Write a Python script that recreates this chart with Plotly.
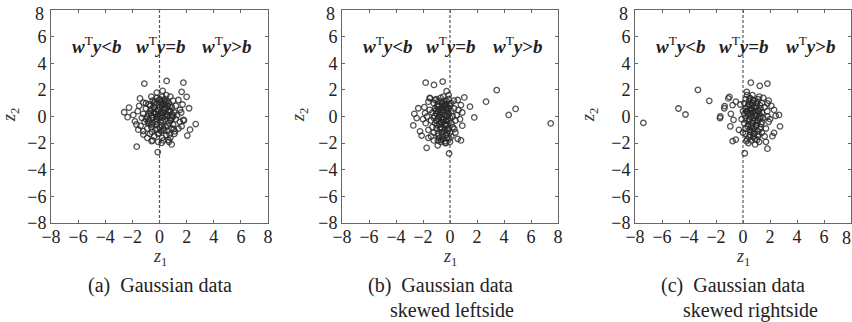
import plotly.graph_objects as go

# ---------------- data ----------------
a_x = [-1.12, 0.53, 1.76, 0.23, 1.63, 2.18, 2.67, 2.25, 2.05, -1.68, -0.13, 0.9, -2.6, -2.35, -2.25,
       -1.44, -1.19, 1.39, 1.51, 1.76, 1.63, 1.14, -0.58, 0.16, -1.19, -1.56, -1.81, -1.93, 2.0,
       -0.8, -0.5, -0.2, 0.1, 0.4, 0.7, 1.0, 1.2, -1.0, -0.7, -0.4, -0.1, 0.2, 0.5, 0.8, 1.1, -1.2,
       -0.9, -0.6, -0.3, 0.0, 0.3, 0.6, 0.9, 1.2, -1.1, -0.8, -0.5, -0.2, 0.1, 0.4, 0.7, 1.0, -0.9,
       -0.6, -0.3, 0.0, 0.3, 0.6, 0.9, -0.7, -0.4, -0.1, 0.2, 0.5, 0.8, -0.3, 0.0, 0.3, -0.6, 0.6,
       -0.2, 0.2, 0.5, -0.5, -0.1, 0.1, -0.4, 0.4, 0.7, -0.8, 0.9, -1.3, 1.3, -1.0, 0.2, 0.5, -0.6,
       -1.4, -1.2, 1.4, 1.5, 1.1, -0.5, 0.3, -0.9, 0.7, -1.6, -1.5, 1.6, 1.7, -0.2, 0.8, -1.7, 1.8,
       -0.1, 0.0, 0.4, -0.7, 0.8, -0.3, 0.2, -0.2, 0.6, -0.6, 0.1, 1.0, -1.0, 0.3, -0.4]
a_y = [2.47, 2.67, 2.54, 1.93, 1.85, 0.62, -0.57, -0.99, -1.43, -2.27, -2.67, -2.1, 0.32, -0.05, 0.67,
       1.36, 1.04, 1.24, 0.5, -0.25, -0.74, -1.11, -1.85, -1.98, -1.36, -0.99, -0.37, 0.12, 1.48,
       0.9, 1.2, 1.4, 1.1, 1.3, 1.0, 1.2, 0.8, 0.6, 0.4, 0.7, 0.5, 0.8, 0.6, 0.4, 0.3, 0.2,
       0.0, 0.1, 0.2, 0.0, 0.3, 0.1, -0.1, -0.2, -0.4, -0.3, -0.5, -0.2, -0.4, -0.2, -0.5, -0.6, -0.9,
       -0.8, -1.0, -0.8, -0.9, -1.1, -0.9, -1.3, -1.5, -1.3, -1.6, -1.4, -1.6, 0.9, 0.7, 0.5, 0.5, 0.8,
       -0.6, -0.1, 0.2, -0.1, 0.1, 0.3, 0.3, 0.0, 0.5, 0.2, 0.7, -0.1, 0.1, 1.0, 1.5, 1.6, 1.5,
       -0.7, -1.1, -0.9, -0.4, -1.3, -1.8, -1.8, -1.6, -1.9, 0.4, 0.8, 0.3, 0.9, 1.8, 1.5, -0.6, -0.3,
       -1.9, 1.3, 0.9, 0.8, -0.3, -0.4, 0.1, 0.0, -0.7, -0.6, -1.1, 0.0, -0.2, 1.2, 1.0]
a_core_x = [-0.35, 0.15, 0.45, 0.75, -0.65, -0.15, 0.35, 0.65, -0.45, 0.05, 0.55, 0.85, -0.75, -0.25,
            0.25, 0.95, -0.55, 0.15, 0.45, -0.05, 0.35, 0.75, -0.85, -0.35, 0.05, 0.55, 1.05, -0.15,
            0.25, 0.65]
a_core_y = [0.65, 0.95, 1.05, 0.75, 0.25, 0.45, 0.65, 0.35, -0.05, 0.25, 0.05, -0.25, -0.55, -0.15,
            -0.35, 0.15, -1.15, -0.65, -0.75, -1.25, -1.05, -1.35, -0.45, 1.15, 1.25, 1.15, -0.95,
            -0.95, 0.95, -1.75]

b_x = [-1.8, -1.19, -0.54, -0.25, 0.57, 1.06, 1.48, 1.8, -2.35, -2.64, -2.47, -2.72, -2.22, -2.1,
       -1.73, -0.91, -0.37, -0.07, 0.57, 0.81, 0.32, 0.91, 0.74, 0.91, 0.62, 0.81, -1.85, -1.6, -1.48,
       -1.11, 2.67, 3.46, 4.35, 4.86, 7.46,
       -1.0, -0.7, -0.4, -0.1, 0.1, -1.2, -0.9, -0.6, -0.3, 0.0, -1.1, -0.8, -0.5, -0.2, 0.1, -1.3,
       -1.0, -0.7, -0.4, -0.1, 0.2, -1.2, -0.9, -0.6, -0.3, 0.0, -1.1, -0.8, -0.5, -0.2, 0.1, -1.3,
       -1.0, -0.7, -0.4, -0.1, 0.2, -1.2, -0.9, -0.6, -0.3, 0.0, -0.8, -0.5, -0.2, 0.1, -0.7, -0.3,
       0.0, -0.6, -0.3, -0.8, -0.5, -0.2, -0.7, -0.4, -0.9, -0.5, -0.2, -0.6, -0.3, -1.0, -0.8, -0.4,
       -1.5, -1.4, -1.6, -1.5, -1.7, -1.4, 0.3, 0.4, 0.3, -1.9, -1.8, -0.9, 0.4, -0.1, -0.5, -1.2,
       -1.6, 0.5, -2.0]
b_y = [2.54, 2.37, 2.62, 1.9, 1.24, 1.43, 0.74, -0.07, 0.62, 0.2, -0.12, -0.67, -1.11, -1.43,
       -2.35, -2.17, -1.98, -2.77, -1.68, -1.8, -0.94, -0.69, -0.2, 0.3, 0.49, 0.86, 0.25, 1.11, 1.36,
       1.24, 1.11, 1.98, 0.12, 0.57, -0.52,
       1.3, 1.4, 1.2, 1.3, 1.0, 1.0, 0.9, 1.0, 0.9, 0.8, 0.6, 0.5, 0.7, 0.5, 0.4, 0.3,
       0.2, 0.3, 0.1, 0.2, 0.0, -0.1, -0.2, -0.1, -0.3, -0.1, -0.5, -0.6, -0.4, -0.6, -0.5, -0.8,
       -0.9, -0.8, -1.0, -0.9, -0.8, -1.2, -1.3, -1.2, -1.4, -1.2, -1.6, -1.7, -1.6, -1.5, -1.9, -2.0,
       -1.9, 0.5, 0.6, 0.0, -0.2, 0.0, -0.4, -0.6, 0.4, 0.3, -0.2, -0.9, -0.7, -0.3, 0.8, 0.9,
       0.5, -0.3, -1.0, 1.4, 0.0, -1.5, 1.2, -0.3, 0.6, 0.7, -0.5, -1.8, -1.2, 1.6, 1.5, -1.8,
       -1.6, 0.1, -0.2]
b_core_x = [-0.85, -0.55, -0.25, -0.05, -0.95, -0.65, -0.35, -0.15, -1.05, -0.75, -0.45, -0.15, -0.85,
            -0.55, -0.25, -0.05, -0.95, -0.65, -0.35, -0.75, -0.45, -0.15, -0.55, -0.25, -1.15, -0.05,
            -0.65, -0.35, -0.85, -0.45]
b_core_y = [1.15, 1.05, 1.15, 0.95, 0.75, 0.65, 0.75, 0.65, 0.45, 0.15, 0.45, 0.35, -0.05, -0.25, 0.05,
            -0.35, -0.65, -0.45, -0.55, -0.95, -1.15, -1.05, -1.45, -1.25, 0.05, -1.65, -1.75, -1.85,
            -1.45, 0.85]

c_x = [0.58, 1.24, 1.81, 0.28, -1.09, -1.39, -1.71, -0.9, -0.7, -0.94, -0.77, -0.53, 0.13, 1.81,
       2.3, 2.67, 2.74, 2.3, 2.18, 2.42, 1.81, -0.53, -0.77, 1.81,
       -7.38, -4.78, -4.26, -3.34, -2.5, -1.68, -1.36, -1.01,
       0.2, 0.5, 0.8, 1.1, 1.4, 0.1, 0.4, 0.7, 1.0, 1.3, 0.2, 0.5, 0.8, 1.1, 1.4, 0.1, 0.4, 0.7,
       1.0, 1.3, 0.2, 0.5, 0.8, 1.1, 1.4, 0.1, 0.4, 0.7, 1.0, 1.3, 0.2, 0.5, 0.8, 1.1, 1.4, 0.2,
       0.5, 0.8, 1.1, 0.3, 0.6, 0.9, 1.2, 0.4, 0.9, 0.6, 0.9, 0.3, 0.6, 0.9, 0.3, 0.6, 1.2, 0.5,
       1.0, 0.7, 1.5, 1.6, 1.7, 1.5, 1.8, 1.9, 1.6, 0.0, -0.1, -0.2, -0.3, 1.9, 2.0, 1.7, 0.3, 0.7,
       1.2, 0.0, 2.1]
c_y = [2.54, 2.3, 2.47, 1.85, 1.36, 0.62, -0.12, 0.2, -0.25, -0.74, -1.85, -1.73, -2.76, -2.42,
       0.5, 0.12, -0.74, -1.23, -1.48, 0.05, 0.99, 1.11, 0.86, 0.0,
       -0.48, 0.6, 0.15, 2.0, 1.18, 0.0, 0.78, 1.48,
       1.3, 1.4, 1.2, 1.3, 1.0, 1.0, 0.9, 1.0, 0.8, 0.6, 0.6, 0.5, 0.7, 0.4, 0.3, 0.2, 0.2, 0.3,
       0.1, 0.0, -0.1, -0.2, -0.1, -0.3, -0.4, -0.5, -0.6, -0.5, -0.7, -0.8, -0.9, -1.0, -0.9, -1.1,
       -1.2, -1.3, -1.4, -1.3, -1.5, -1.7, -1.8, -1.7, -1.9, -2.0, -2.1, 0.6, 0.4, 0.4, 0.0, -0.3,
       -0.3, -0.7, 0.2, 0.9, 1.0, -1.1, -0.1, 0.7, -0.9, 1.4, 0.4, -0.4, -1.5, 0.4, -0.2, 0.9, -1.0,
       1.2, -0.2, -1.9, 1.6, 1.6, 1.5, -1.2, 0.8]
c_core_x = [0.45, 0.75, 1.05, 1.25, 0.35, 0.65, 0.95, 1.15, 0.25, 0.55, 0.85, 1.25, 0.45, 0.75, 1.05,
            0.35, 0.65, 0.95, 1.25, 0.55, 0.85, 1.15, 0.45, 0.75, 0.25, 1.05, 0.65, 0.95, 1.35, 0.55]
c_core_y = [1.15, 1.25, 1.05, 0.85, 0.75, 0.85, 0.65, 0.45, 0.35, 0.25, 0.15, -0.15, -0.25, -0.35,
            -0.45, -0.75, -0.85, -0.65, -0.95, -1.15, -1.25, -1.35, -1.55, -1.55, -1.85, -1.75, 0.45,
            0.05, -0.55, 1.35]

boundary_x = [0, 0]
boundary_y = [-8, 8]
axis_range = [-8, 8]
tick_vals = [-8, -6, -4, -2, 0, 2, 4, 6, 8]
tick_text = ["\u22128", "\u22126", "\u22124", "\u22122", "0", "2", "4", "6", "8"]

region_labels = [
    "<b><i>w</i></b><sup>T</sup><b><i>y</i>&lt;<i>b</i></b>",
    "<b><i>w</i></b><sup>T</sup><b><i>y</i>=<i>b</i></b>",
    "<b><i>w</i></b><sup>T</sup><b><i>y</i>&gt;<i>b</i></b>",
]
region_label_x = [-4.6, 0.1, 5.0]
region_label_y = 5.4

captions = [
    ["(a)  Gaussian data"],
    ["(b)  Gaussian data", "skewed leftside"],
    ["(c)  Gaussian data", "skewed rightside"],
]

# ---------------- layout helpers ----------------
W, H = 852, 322
FONT = "Liberation Serif, Times New Roman, serif"
panels_px = [(51, 268), (342, 558), (635, 851)]
ytitle_px = [11, 300, 590]
top_px, bot_px = 10, 223


def px(x):
    return x / W


def py(y):
    return (H - y) / H


fig = go.Figure()
datasets = [(a_x + a_core_x, a_y + a_core_y), (b_x + b_core_x, b_y + b_core_y),
            (c_x + c_core_x, c_y + c_core_y)]
for i, (xs, ys) in enumerate(datasets):
    sfx = "" if i == 0 else str(i + 1)
    fig.add_trace(go.Scatter(
        x=boundary_x, y=boundary_y, mode="lines", xaxis="x" + sfx, yaxis="y" + sfx,
        line=dict(color="rgba(70,70,70,0.9)", width=1.2, dash="3px,2px"),
        showlegend=False, hoverinfo="skip"))
    fig.add_trace(go.Scatter(
        x=xs, y=ys, mode="markers", xaxis="x" + sfx, yaxis="y" + sfx,
        marker=dict(symbol="circle-open", size=5.5, color="rgba(40,40,40,0.8)",
                    line=dict(width=1.3)),
        showlegend=False, hoverinfo="skip"))

axis_common = dict(range=axis_range, tickvals=tick_vals, ticktext=tick_text,
                   showgrid=False, zeroline=False,
                   showline=True, linecolor="#666", linewidth=1, mirror="ticks",
                   ticks="inside", ticklen=3, tickcolor="#666", automargin=False,
                   ticklabeloverflow="allow",
                   tickfont=dict(family=FONT, size=18, color="#222"), fixedrange=True)

layout = dict(template="none", width=W, height=H, margin=dict(l=0, r=0, t=0, b=0, pad=0),
              paper_bgcolor="white", plot_bgcolor="white", annotations=[], showlegend=False)
for i, (l, r) in enumerate(panels_px):
    sfx = "" if i == 0 else str(i + 1)
    xa = dict(axis_common, domain=[px(l), px(r)], anchor="y" + sfx, ticklabelstandoff=-3)
    ya = dict(axis_common, domain=[py(bot_px), py(top_px)], anchor="x" + sfx)
    # top y label and (for the cropped last panel) right x label are drawn as annotations
    ya["ticktext"] = tick_text[:-1] + [""]
    if i == 2:
        xa["ticktext"] = tick_text[:-1] + [""]
    layout["xaxis" + sfx] = xa
    layout["yaxis" + sfx] = ya

    cx = (l + r) / 2
    ann = layout["annotations"]
    ann.append(dict(text=tick_text[-1], x=px(l - 5), y=py(14), xref="paper", yref="paper",
                    xanchor="right", yanchor="middle", showarrow=False,
                    font=dict(family=FONT, size=18, color="#222")))
    if i == 2:
        ann.append(dict(text="8", x=px(846), y=py(238), xref="paper", yref="paper",
                        xanchor="center", yanchor="middle", showarrow=False,
                        font=dict(family=FONT, size=18, color="#222")))
    # region labels
    for t, lx in zip(region_labels, region_label_x):
        ann.append(dict(text=t, x=lx, y=region_label_y, xref="x" + sfx, yref="y" + sfx,
                        xanchor="center", yanchor="middle",
                        showarrow=False, font=dict(family=FONT, size=19, color="#222")))
    # axis titles
    ann.append(dict(text="<i>z</i><sub>1</sub>", x=px(cx), y=py(257), xref="paper", yref="paper",
                    xanchor="center", yanchor="middle",
                    showarrow=False, font=dict(family=FONT, size=18, color="#333")))
    ann.append(dict(text="<i>z</i><sub>2</sub>", x=px(ytitle_px[i]), y=py(115), xref="paper", yref="paper",
                    xanchor="center", yanchor="middle",
                    showarrow=False, textangle=-90, font=dict(family=FONT, size=18, color="#333")))
    # captions
    cap = captions[i]
    if len(cap) == 1:
        ann.append(dict(text=cap[0], x=px(cx), y=py(285), xref="paper", yref="paper",
                        xanchor="center", yanchor="middle",
                        showarrow=False, font=dict(family=FONT, size=20, color="#222")))
    else:
        ann.append(dict(text=cap[0], x=px(l + 24), y=py(285), xref="paper", yref="paper",
                        xanchor="left", yanchor="middle",
                        showarrow=False, font=dict(family=FONT, size=20, color="#222")))
        ann.append(dict(text=cap[1], x=px(l + 46), y=py(310), xref="paper", yref="paper",
                        xanchor="left", yanchor="middle",
                        showarrow=False, font=dict(family=FONT, size=20, color="#222")))

fig.update_layout(**layout)
fig.write_html(
    "out.html",
    config={"displayModeBar": False},
    post_script=("document.documentElement.style.overflow='hidden';"
                 "document.body.style.overflow='hidden';document.body.style.margin='0';"),
)
